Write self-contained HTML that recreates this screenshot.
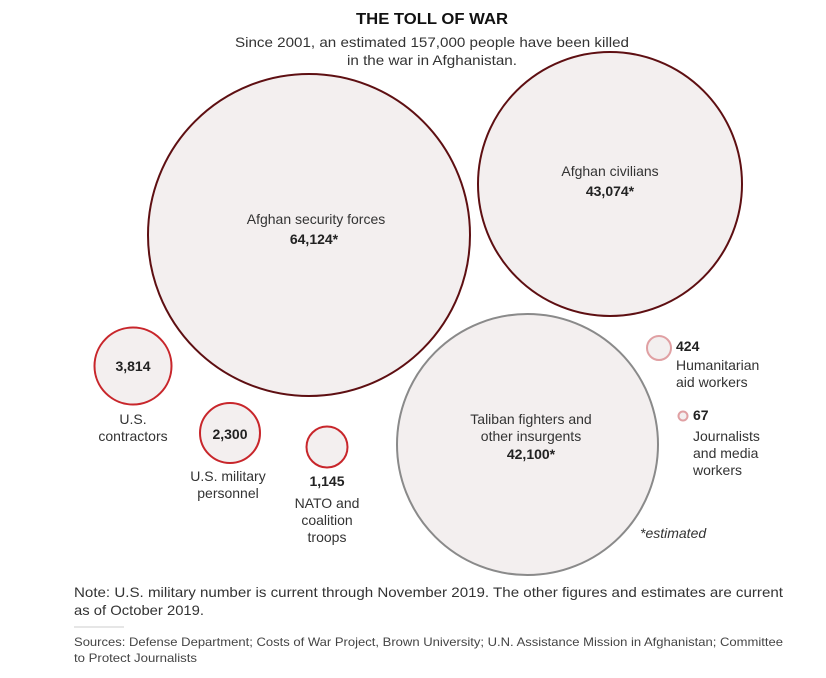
<!DOCTYPE html>
<html><head><meta charset="utf-8"><style>
html,body{margin:0;padding:0;background:#fff;}
svg{display:block;font-family:"Liberation Sans",sans-serif;}
</style></head><body>
<svg width="826" height="678" viewBox="0 0 826 678" xmlns="http://www.w3.org/2000/svg">
<text x="432" y="24" text-anchor="middle" font-size="16" font-weight="bold" fill="#111" textLength="152" lengthAdjust="spacingAndGlyphs">THE TOLL OF WAR</text>
<text x="432" y="47" text-anchor="middle" font-size="14" fill="#333" textLength="394" lengthAdjust="spacingAndGlyphs">Since 2001, an estimated 157,000 people have been killed</text>
<text x="432" y="65" text-anchor="middle" font-size="14" fill="#333" textLength="170" lengthAdjust="spacingAndGlyphs">in the war in Afghanistan.</text>

<g fill="#f3efef">
<circle cx="309" cy="235" r="161" stroke="#5e0f12" stroke-width="2"/>
<circle cx="610" cy="184" r="132" stroke="#5e0f12" stroke-width="2"/>
<circle cx="527.5" cy="444.5" r="130.5" stroke="#8a8a8a" stroke-width="2"/>
<circle cx="133" cy="366" r="38.5" stroke="#c8262b" stroke-width="2"/>
<circle cx="230" cy="433" r="30" stroke="#c8262b" stroke-width="2"/>
<circle cx="327" cy="447" r="20.5" stroke="#c8262b" stroke-width="2"/>
<circle cx="659" cy="348" r="12" stroke="#e0a0a3" stroke-width="2"/>
<circle cx="683" cy="416" r="4.5" stroke="#e0a0a3" stroke-width="2"/>
</g>

<g font-size="14" fill="#333" text-anchor="middle">
<text x="316" y="224">Afghan security forces</text>
<text x="314" y="244" font-weight="bold" fill="#222">64,124*</text>
<text x="610" y="176">Afghan civilians</text>
<text x="610" y="196" font-weight="bold" fill="#222">43,074*</text>
<text x="531" y="424">Taliban fighters and</text>
<text x="531" y="441">other insurgents</text>
<text x="531" y="459" font-weight="bold" fill="#222">42,100*</text>
<text x="133" y="371" font-weight="bold" fill="#222">3,814</text>
<text x="230" y="439" font-weight="bold" fill="#222">2,300</text>
<text x="133" y="424">U.S.</text>
<text x="133" y="441">contractors</text>
<text x="228" y="481">U.S. military</text>
<text x="228" y="498">personnel</text>
<text x="327" y="486" font-weight="bold" fill="#222">1,145</text>
<text x="327" y="508">NATO and</text>
<text x="327" y="525">coalition</text>
<text x="327" y="542">troops</text>
</g>
<g font-size="14" fill="#333">
<text x="676" y="351" font-weight="bold" fill="#222">424</text>
<text x="676" y="370">Humanitarian</text>
<text x="676" y="387">aid workers</text>
<text x="693" y="420" font-weight="bold" fill="#222">67</text>
<text x="693" y="441">Journalists</text>
<text x="693" y="458">and media</text>
<text x="693" y="475">workers</text>
<text x="640" y="538" font-style="italic">*estimated</text>
<text x="74" y="597" textLength="709" lengthAdjust="spacingAndGlyphs">Note: U.S. military number is current through November 2019. The other figures and estimates are current</text>
<text x="74" y="615" textLength="130" lengthAdjust="spacingAndGlyphs">as of October 2019.</text>
</g>
<line x1="74" y1="627" x2="124" y2="627" stroke="#ccc" stroke-width="1"/>
<g font-size="12" fill="#444">
<text x="74" y="646" textLength="709" lengthAdjust="spacingAndGlyphs">Sources: Defense Department; Costs of War Project, Brown University; U.N. Assistance Mission in Afghanistan; Committee</text>
<text x="74" y="662" textLength="123" lengthAdjust="spacingAndGlyphs">to Protect Journalists</text>
</g>
</svg>
</body></html>
